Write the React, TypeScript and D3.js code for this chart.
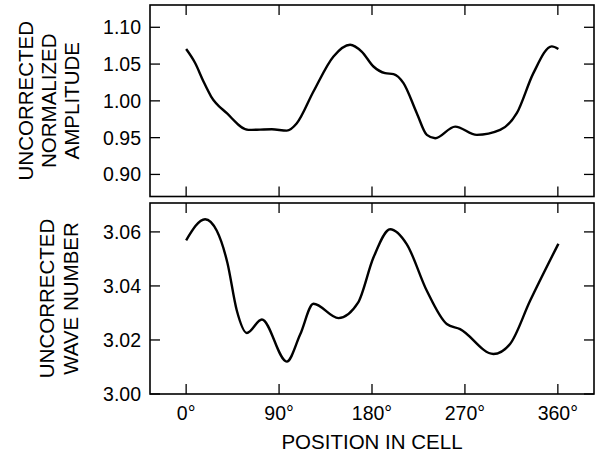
import React from 'react'
import * as d3 from 'd3'

const positions = [0, 8.7, 16.8, 24.2, 39.4, 60.3, 83, 97.5, 107.2, 123.3, 142.7, 158.8, 170, 181.4, 192.7, 200.8, 210.5, 223.4, 233.1, 241.2, 260.5, 281.5, 304.1, 320.2, 336.3, 354.1, 360.5]
const amplitude = [1.0704, 1.0514, 1.0263, 1.0059, 0.9832, 0.9605, 0.9614, 0.9595, 0.9696, 1.0127, 1.0604, 1.0763, 1.067, 1.0467, 1.0377, 1.0364, 1.0241, 0.9832, 0.9537, 0.9492, 0.965, 0.9537, 0.9605, 0.9832, 1.0377, 1.074, 1.0704]

const wavePositions = [0, 18.4, 29.7, 40, 49, 58.8, 73.3, 97.5, 110.4, 123.3, 147.5, 166.5, 181.4, 197.6, 213.6, 233.1, 252.4, 265.3, 297.6, 313.7, 333.1, 360.5]
const waveNumber = [3.0569, 3.0647, 3.0604, 3.0485, 3.031, 3.0226, 3.0276, 3.012, 3.022, 3.0334, 3.0281, 3.0338, 3.0505, 3.061, 3.0555, 3.0382, 3.0259, 3.024, 3.0148, 3.0185, 3.0345, 3.0556]

const xTicks = [0, 90, 180, 270, 360]
const ampTicks = [0.9, 0.95, 1.0, 1.05, 1.1]
const waveTicks = [3.0, 3.02, 3.04, 3.06]

const font = '"Liberation Sans", Arial, Helvetica, sans-serif'
const tickLen = 10

function Panel({ top, bottom, yDomain, yTicks, yFormat, xs, ys, title, showXLabels }) {
  const left = 150
  const right = 594
  const x = d3.scaleLinear().domain([-35, 395]).range([left, right])
  const y = d3.scaleLinear().domain(yDomain).range([bottom, top])
  const line = d3.line<number>()
    .x((d, i) => x(xs[i]))
    .y(d => y(d))
    .curve(d3.curveMonotoneX)
  const midY = (top + bottom) / 2

  return (
    <g>
      <path d={line(ys) || ''} fill="none" stroke="#000" strokeWidth={2.4} strokeLinejoin="round" />
      <rect x={left} y={top} width={right - left} height={bottom - top} fill="none" stroke="#000" strokeWidth={1.6} />
      {xTicks.map(t => (
        <g key={'x' + t}>
          <line x1={x(t)} x2={x(t)} y1={top} y2={top + tickLen} stroke="#000" strokeWidth={1.3} />
          <line x1={x(t)} x2={x(t)} y1={bottom} y2={bottom - tickLen} stroke="#000" strokeWidth={1.3} />
          {showXLabels && (
            <text x={x(t)} y={420} textAnchor="middle" fontSize={19.5} fontFamily={font}>{t}°</text>
          )}
        </g>
      ))}
      {yTicks.map(t => (
        <g key={'y' + t}>
          <line x1={left} x2={left + tickLen} y1={y(t)} y2={y(t)} stroke="#000" strokeWidth={1.3} />
          <line x1={right} x2={right - tickLen} y1={y(t)} y2={y(t)} stroke="#000" strokeWidth={1.3} />
          <text x={141} y={y(t)} dy="0.36em" textAnchor="end" fontSize={19.5} fontFamily={font}>{yFormat(t)}</text>
        </g>
      ))}
      {title.lines.map((s, i) => (
        <text key={s} transform={`translate(${title.x[i]},${midY}) rotate(-90)`} dy="0.36em"
          textAnchor="middle" fontSize={20.5} fontFamily={font}>{s}</text>
      ))}
    </g>
  )
}

export default function App() {
  return (
    <div style={{ position: 'absolute', left: 0, top: 0 }}>
      <svg width={598} height={455} style={{ display: 'block', background: '#fff' }}>
        <Panel top={5} bottom={196.5} yDomain={[0.87, 1.1303]} yTicks={ampTicks} yFormat={d3.format('.2f')}
          xs={positions} ys={amplitude} showXLabels={false}
          title={{ lines: ['UNCORRECTED', 'NORMALIZED', 'AMPLITUDE'], x: [26, 49, 72] }} />
        <Panel top={203} bottom={394} yDomain={[3.0, 3.0707]} yTicks={waveTicks} yFormat={d3.format('.2f')}
          xs={wavePositions} ys={waveNumber} showXLabels={true}
          title={{ lines: ['UNCORRECTED', 'WAVE NUMBER'], x: [47, 71] }} />
        <text x={372} y={449} textAnchor="middle" fontSize={20.5} fontFamily={font}>POSITION IN CELL</text>
      </svg>
    </div>
  )
}
